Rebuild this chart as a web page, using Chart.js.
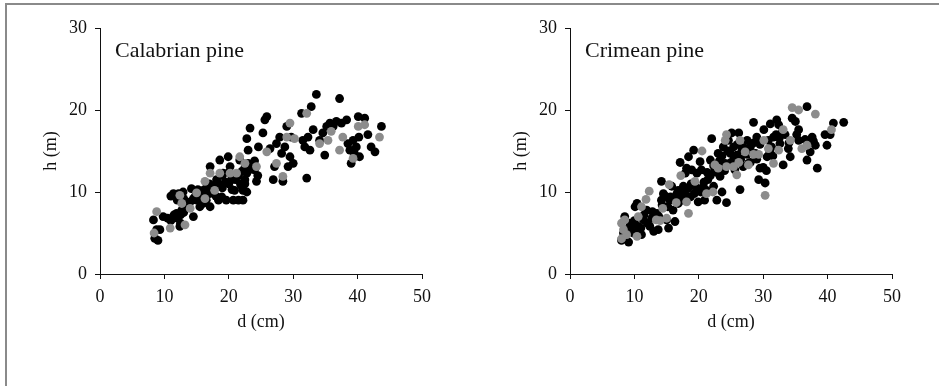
<!DOCTYPE html>
<html>
<head>
<meta charset="utf-8">
<script src="https://cdn.jsdelivr.net/npm/chart.js@4/dist/chart.umd.min.js"></script>
<style>
  html, body { margin: 0; padding: 0; background: #fff; }
  body { width: 939px; height: 386px; position: relative; overflow: hidden; }
  .frame { position: absolute; left: 5px; top: 3px; width: 940px; height: 400px;
           border-left: 2px solid #8a8a8a; border-top: 2px solid #8a8a8a; }
  .panel { position: absolute; top: 0; height: 386px; }
  #left { left: 0; width: 470px; }
  #right { left: 470px; width: 469px; }
</style>
</head>
<body>
<div class="frame"></div>
<div class="panel" id="left"><canvas id="calabrianChart"></canvas></div>
<div class="panel" id="right"><canvas id="crimeanChart"></canvas></div>
<script>
// Calabrian pine: diameter d (cm) / height h (m)
const calabrianBlackD = [8.3, 8.5, 8.8, 9.8, 9.3, 9.0, 11.4, 12.2, 11.4, 11.9, 12.4, 12.9, 12.7, 13.4, 14.2, 14.5, 15.0, 15.5, 16.0, 16.5,
  17.1, 17.1, 17.6, 18.1, 18.4, 18.6, 18.9, 19.1, 19.6, 19.9, 20.2, 20.4, 20.7, 20.9, 21.2, 21.5, 21.7, 22.0, 22.2, 22.5,
  22.8, 22.8, 23.3, 23.0, 22.8, 24.3, 24.0, 24.6, 25.3, 25.6, 25.9, 26.4, 26.9, 27.1, 27.4, 27.9, 28.2, 28.4, 28.7, 29.0,
  29.2, 29.5, 30.0, 29.7, 31.3, 31.5, 31.8, 32.1, 32.3, 32.6, 32.8, 33.1, 33.6, 34.1, 34.6, 34.9, 35.2, 35.7, 36.2, 36.7,
  37.2, 37.5, 38.3, 38.5, 38.8, 39.0, 39.3, 39.5, 39.8, 40.1, 40.2, 40.3, 41.1, 41.6, 42.1, 42.7, 43.7,
  11.5, 12.0, 12.5, 13.0, 13.5, 14.0, 14.8, 15.2, 15.8, 16.5, 17.0, 17.5, 18.0, 18.5, 19.0, 19.5, 20.0, 20.5, 21.0, 21.5,
  22.0, 22.5, 22.2, 21.8, 16.0, 15.5, 14.5, 19.0, 20.0, 18.0, 17.0, 13.0, 12.0, 11.0, 11.0, 10.5, 12.5, 23.0, 24.0, 23.5,
  24.5, 22.5];
const calabrianBlackH = [6.6, 4.35, 5.4, 7.0, 5.4, 4.1, 9.8, 9.8, 7.0, 7.4, 5.8, 10.0, 7.8, 8.2, 10.4, 7.0, 9.0, 8.2, 10.2, 9.0,
  13.1, 8.2, 10.7, 11.5, 9.0, 13.9, 9.4, 12.3, 9.0, 14.3, 13.1, 11.5, 9.0, 10.2, 11.9, 9.0, 13.9, 10.7, 9.0, 11.5,
  12.3, 16.5, 17.8, 15.1, 10.0, 11.3, 12.7, 15.5, 17.2, 18.8, 19.2, 15.3, 11.5, 13.1, 15.9, 16.7, 14.7, 11.3, 15.5, 18.0,
  13.1, 14.3, 13.5, 16.7, 19.6, 16.3, 15.5, 11.7, 16.7, 15.1, 20.4, 17.6, 21.9, 16.3, 17.2, 14.5, 18.0, 18.4, 18.0, 18.6,
  21.4, 18.4, 18.8, 15.9, 15.1, 13.5, 16.3, 14.7, 15.5, 19.2, 16.7, 14.3, 19.0, 17.0, 15.5, 14.9, 18.0,
  7.2, 6.8, 7.2, 7.5, 8.6, 8.8, 9.5, 10.3, 9.5, 10.5, 9.8, 10.0, 10.8, 11.0, 10.5, 11.2, 11.0, 10.3, 11.5, 12.0,
  12.5, 13.0, 10.2, 11.0, 8.6, 9.8, 9.2, 12.0, 12.4, 9.5, 11.0, 9.2, 9.0, 9.5, 6.5, 6.8, 6.2, 13.5, 13.8, 12.8,
  12.0, 11.0];
const calabrianGreyD = [8.4, 8.8, 10.9, 12.4, 12.7, 13.2, 14.0, 15.0, 16.3, 16.3, 17.1, 17.8, 18.6, 20.2, 21.2, 21.7, 22.5,
  24.3, 25.9, 27.4, 28.4, 29.0, 29.5, 30.2, 32.1, 34.1, 35.4, 35.9, 37.2, 37.7, 39.3, 40.1, 41.1, 43.4];
const calabrianGreyH = [5.0, 7.6, 5.6, 9.6, 8.6, 6.0, 8.0, 9.9, 11.3, 9.2, 12.3, 10.2, 12.3, 12.3, 12.3, 14.3, 13.5,
  13.1, 14.9, 13.5, 11.9, 16.7, 18.4, 16.5, 19.6, 15.9, 16.3, 17.4, 15.1, 16.7, 14.1, 18.0, 18.2, 16.7];

// Crimean pine
const crimeanBlackD = [8.0, 8.3, 8.8, 9.1, 8.5, 9.3, 9.8, 10.1, 10.4, 10.6, 11.1, 11.4, 11.9, 12.4, 12.7, 13.5, 13.7, 14.2, 14.2, 14.5,
  15.0, 15.3, 15.5, 15.8, 16.0, 16.3, 16.6, 16.8, 17.1, 17.4, 17.6, 17.9, 18.1, 18.4, 18.7, 18.9, 19.2, 19.4, 19.7, 19.9,
  20.2, 20.4, 20.7, 20.9, 21.2, 21.4, 21.8, 22.0, 22.3, 22.5, 22.8, 23.0, 23.3, 23.6, 23.8, 24.1, 24.3, 24.6, 24.9, 25.1,
  25.4, 25.6, 25.9, 26.2, 26.4, 26.7, 26.9, 27.5, 27.7, 28.0, 28.5, 28.8, 29.0, 29.3, 29.5, 30.1, 30.3, 30.6, 30.8, 31.1,
  31.3, 31.6, 32.1, 32.4, 32.6, 33.1, 33.4, 33.9, 34.2, 34.5, 35.0, 35.2, 35.5, 36.8, 36.8, 37.3, 37.6, 38.1, 38.4, 39.6,
  39.9, 40.4, 40.9, 42.5,
  9.5, 10.0, 10.5, 11.0, 11.5, 12.0, 12.8, 13.0, 13.8, 14.3, 14.8, 15.2, 15.6, 16.2, 16.8, 17.2, 17.8, 18.3, 18.8, 19.3,
  19.8, 20.3, 20.8, 21.3, 21.8, 22.3, 22.8, 23.2, 23.6, 24.0, 24.5, 25.0, 25.5, 26.0, 26.5, 27.0, 27.5, 28.0, 28.5, 29.0,
  29.5, 30.0, 30.5, 31.0, 31.5, 32.0, 32.5, 33.0, 34.0, 35.5, 36.5, 37.8];
const crimeanBlackH = [4.1, 5.0, 5.4, 3.9, 7.0, 6.2, 5.0, 8.2, 8.6, 5.8, 4.8, 6.6, 7.8, 5.8, 6.8, 7.4, 5.4, 11.3, 9.0, 9.8,
  6.6, 5.6, 9.0, 10.7, 7.8, 6.4, 9.8, 8.6, 13.6, 9.0, 10.7, 12.3, 12.9, 14.3, 9.4, 12.7, 15.1, 10.7, 12.3, 8.8,
  13.7, 12.7, 10.7, 9.0, 10.2, 11.5, 13.9, 16.5, 10.7, 12.7, 9.0, 14.7, 11.9, 10.0, 15.5, 13.5, 8.7, 16.3, 14.7, 17.2,
  15.5, 12.7, 14.5, 17.2, 10.3, 15.1, 13.1, 16.3, 13.5, 15.5, 18.5, 14.7, 16.7, 11.5, 12.9, 17.6, 11.1, 14.3, 16.3, 18.3,
  15.5, 16.7, 18.8, 18.2, 15.9, 13.3, 17.0, 15.3, 14.3, 19.0, 18.6, 17.0, 16.3, 20.4, 13.9, 14.9, 16.7, 15.7, 12.9, 17.0,
  15.7, 17.0, 18.4, 18.5,
  5.8, 6.5, 5.2, 5.6, 7.2, 6.2, 7.6, 5.2, 7.0, 8.4, 9.5, 8.2, 9.4, 9.2, 10.2, 9.6, 9.8, 10.4, 11.0, 9.8,
  10.4, 10.0, 11.2, 12.4, 12.0, 13.2, 12.4, 13.8, 14.4, 12.6, 15.0, 13.6, 14.2, 15.8, 14.0, 15.4, 14.6, 13.6, 16.0, 14.0,
  15.8, 13.0, 12.6, 15.0, 14.4, 17.0, 16.6, 17.4, 16.0, 17.6, 16.4, 16.2];
const crimeanGreyD = [8.0, 8.3, 8.5, 8.0, 8.8, 10.4, 10.6, 11.1, 11.8, 12.3, 13.4, 14.0, 14.4, 15.0, 15.4, 16.5, 17.2, 18.1, 18.4, 19.4,
  20.5, 21.2, 22.2, 22.5, 23.0, 24.1, 24.3, 24.3, 25.4, 25.9, 26.2, 26.4, 27.2, 27.7, 28.5, 29.3, 30.1, 30.3, 30.8, 31.6,
  32.4, 33.1, 34.2, 34.5, 35.5, 36.0, 36.8, 38.1, 40.6];
const crimeanGreyH = [6.2, 5.4, 6.6, 4.3, 4.8, 4.6, 7.0, 8.2, 9.1, 10.1, 6.6, 6.5, 8.0, 6.8, 10.9, 8.7, 12.0, 8.8, 7.4, 11.3,
  15.0, 9.8, 10.0, 13.3, 12.9, 16.3, 17.0, 13.1, 13.1, 12.1, 13.6, 16.3, 14.9, 13.3, 14.6, 14.6, 16.3, 9.6, 15.3, 13.5,
  15.1, 17.6, 16.3, 20.3, 20.0, 15.3, 15.7, 19.5, 17.6];

const xTicks = [0, 10, 20, 30, 40, 50];
const yTicks = [0, 10, 20, 30];

const serif = "'Liberation Serif', 'Times New Roman', serif";

function toPoints(ds, hs) {
  return ds.map((d, i) => ({ x: d, y: hs[i] }));
}

// draws the species name inside the plot, top-left
const panelLabel = {
  id: 'panelLabel',
  afterDraw(chart, args, opts) {
    const { ctx, chartArea } = chart;
    ctx.save();
    ctx.font = '22px ' + serif;
    ctx.fillStyle = '#111';
    ctx.textBaseline = 'middle';
    ctx.fillText(opts.text, chartArea.left + 15, chartArea.top + 23);
    ctx.restore();
  },
};

function makeChart(id, name, blackD, blackH, greyD, greyH, rightPad) {
  const ctx = document.getElementById(id).getContext('2d');
  return new Chart(ctx, {
    type: 'scatter',
    data: {
      datasets: [
        {
          label: name + ' (grey)',
          data: toPoints(greyD, greyH),
          backgroundColor: '#8c8c8c',
          borderWidth: 0,
          pointRadius: 4.4,
          pointHoverRadius: 4.4,
        },
        {
          label: name,
          data: toPoints(blackD, blackH),
          backgroundColor: '#000',
          borderWidth: 0,
          pointRadius: 4.4,
          pointHoverRadius: 4.4,
        },
      ],
    },
    options: {
      responsive: true,
      maintainAspectRatio: false,
      animation: false,
      events: [],
      layout: { padding: { left: 36, top: 28, right: rightPad, bottom: 49 } },
      plugins: {
        legend: { display: false },
        tooltip: { enabled: false },
        panelLabel: { text: name },
      },
      scales: {
        x: {
          type: 'linear',
          min: 0,
          max: 50,
          afterBuildTicks: (scale) => { scale.ticks = xTicks.map((v) => ({ value: v })); },
          afterFit: (scale) => { scale.height = 63; },
          grid: { drawOnChartArea: false, drawTicks: true, tickLength: 5, color: '#111' },
          border: { color: '#111', width: 1 },
          ticks: { color: '#111', padding: 7, font: { family: serif, size: 18 } },
          title: { display: true, text: 'd (cm)', color: '#111', font: { family: serif, size: 18 } },
        },
        y: {
          type: 'linear',
          min: 0,
          max: 30,
          afterBuildTicks: (scale) => { scale.ticks = yTicks.map((v) => ({ value: v })); },
          afterFit: (scale) => { scale.width = 64; },
          grid: { drawOnChartArea: false, drawTicks: true, tickLength: 5, color: '#111' },
          border: { color: '#111', width: 1 },
          ticks: { color: '#111', padding: 8, font: { family: serif, size: 18 } },
          title: { display: true, text: 'h (m)', color: '#111', font: { family: serif, size: 18 } },
        },
      },
    },
    plugins: [panelLabel],
  });
}

makeChart('calabrianChart', 'Calabrian pine', calabrianBlackD, calabrianBlackH, calabrianGreyD, calabrianGreyH, 48);
makeChart('crimeanChart', 'Crimean pine', crimeanBlackD, crimeanBlackH, crimeanGreyD, crimeanGreyH, 47);
</script>
</body>
</html>
